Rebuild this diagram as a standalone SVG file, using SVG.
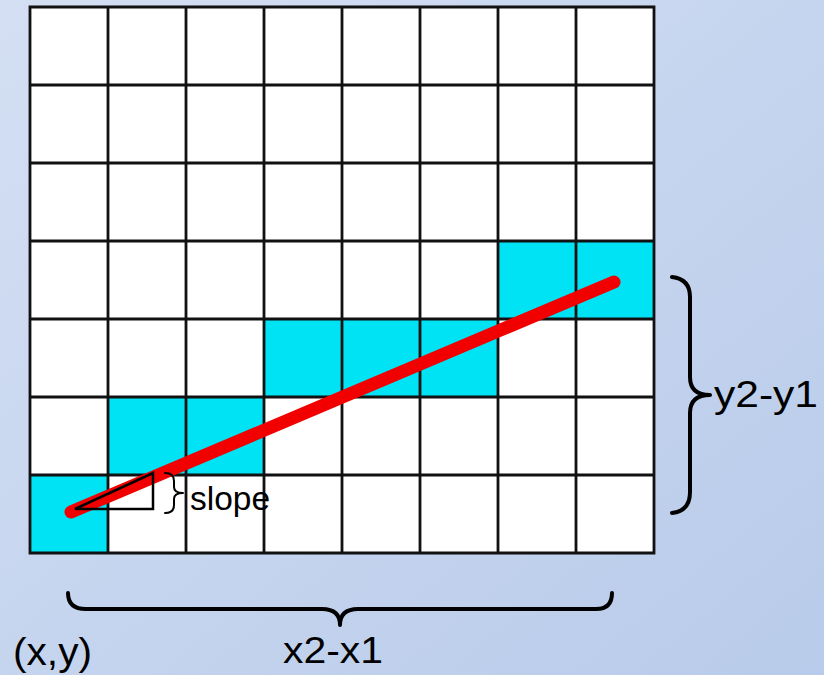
<svg xmlns="http://www.w3.org/2000/svg" width="824" height="675" viewBox="0 0 824 675">
  <defs>
    <linearGradient id="bg" x1="0" y1="0" x2="1" y2="1">
      <stop offset="0" stop-color="#D4DFF3"/>
      <stop offset="1" stop-color="#B8CBEA"/>
    </linearGradient>
    <style>
      .cell{fill:#00E3F4;}
      .grid{stroke:#111;stroke-width:2.8;fill:none;}
      .brace{stroke:#000;fill:none;stroke-linecap:round;stroke-linejoin:round;}
      .lbl{font-family:"Liberation Sans",Arial,sans-serif;fill:#000;}
    </style>
  </defs>
  <rect width="824" height="675" fill="url(#bg)"/>
  <g id="grid">
    <rect x="30" y="7" width="624" height="546" fill="#FFFFFF"/>
    <g id="cells">
      <rect class="cell" x="498" y="241" width="156" height="78"/>
      <rect class="cell" x="264" y="319" width="234" height="78"/>
      <rect class="cell" x="108" y="397" width="156" height="78"/>
      <rect class="cell" x="30" y="475" width="78" height="78"/>
    </g>
    <path class="grid" d="M30,7H654V553H30Z M108,7V553 M186,7V553 M264,7V553 M342,7V553 M420,7V553 M498,7V553 M576,7V553 M30,85H654 M30,163H654 M30,241H654 M30,319H654 M30,397H654 M30,475H654"/>
  </g>
  <g id="connectors">
    <line id="redline" x1="71" y1="512" x2="614" y2="282" stroke="#F20000" stroke-width="13" stroke-linecap="round"/>
    <path id="triangle" d="M75,509 L153,473 L153,509 Z" fill="none" stroke="#000" stroke-width="2.5" stroke-linejoin="miter"/>
  </g>
  <g id="brace-slope">
    <path class="brace" stroke-width="2" d="M165,473 Q174,473 174,481 L174,487 Q174,493 183,493 Q174,493 174,499 L174,505 Q174,513 165,513"/>
    <text class="lbl" x="190" y="510" font-size="34" textLength="80" lengthAdjust="spacingAndGlyphs">slope</text>
  </g>
  <g id="brace-y">
    <path class="brace" stroke-width="4" d="M672,277 Q690,279 690,297 L690,377 Q690,395 710,395 Q690,395 690,413 L690,492 Q690,511 672,513"/>
    <text class="lbl" x="714" y="407" font-size="36" textLength="104" lengthAdjust="spacingAndGlyphs">y2-y1</text>
  </g>
  <g id="brace-x">
    <path class="brace" stroke-width="4" d="M68,593 Q68,609 86,609 L322,609 Q340,609 340,625 Q340,609 358,609 L596,609 Q612,609 612,593"/>
    <text class="lbl" x="283" y="663" font-size="36" textLength="100" lengthAdjust="spacingAndGlyphs">x2-x1</text>
  </g>
  <g id="origin">
    <text class="lbl" x="13" y="665" font-size="38" textLength="79" lengthAdjust="spacingAndGlyphs">(x,y)</text>
  </g>
</svg>
